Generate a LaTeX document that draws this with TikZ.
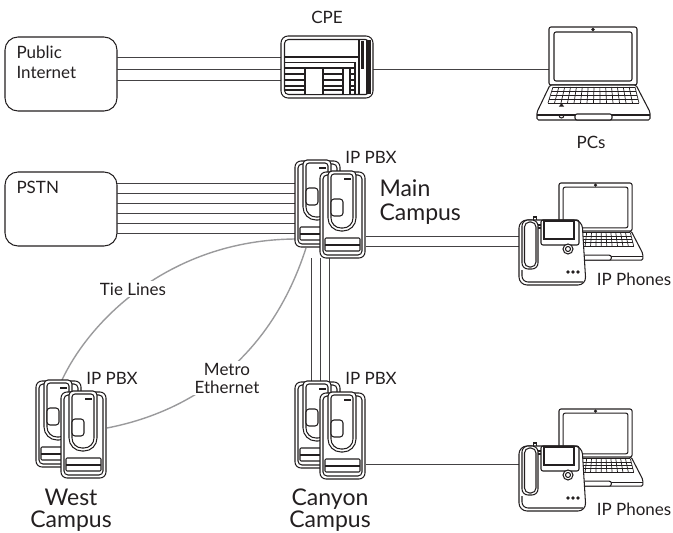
\documentclass[tikz,border=0pt]{standalone}
\usepackage{fontspec}
\setmainfont{Lato}
\usetikzlibrary{positioning}
\definecolor{ink}{HTML}{231F20}
\definecolor{wirecol}{HTML}{444244}
\definecolor{arccol}{HTML}{9A9A9C}

\tikzset{
	pbxunit/.pic={
		\draw[fill=white,rounded corners=6] (0,0) rectangle (45,86);
		\draw[rounded corners=4] (3,3) rectangle (42,83);
		\draw[fill=white,rounded corners=4] (22,-1) -- (36,-1) [rounded corners=13] -- (36,59) -- (8,59) [rounded corners=4] -- (8,-1) -- cycle;
		\draw[rounded corners=3] (22,2) -- (33,2) [rounded corners=10] -- (33,56) -- (11,56) [rounded corners=3] -- (11,2) -- cycle;
		\draw[line width=1.8pt] (24,7) -- (31,7);
		\draw[fill=white,rounded corners=3] (23,27) -- (11,27) -- (11,44) -- (23,44) -- cycle;
		\draw[fill=white,rounded corners=1] (5,66) rectangle (40,79);
		\draw[line width=1.8pt] (5,73) -- (40,73);
	},
	laptop/.pic={
		\draw[fill=white,rounded corners=2] (0,0) rectangle (88,58);
		\draw[rounded corners=2] (5,5) rectangle (83,54);
		\draw[fill=white] (44,2.5) circle[radius=1.2];
		\draw[fill=white,rounded corners=1.5] (1,58) -- (87,58) -- (101,85) -- (101,93) -- (-12,93) -- (-12,85) -- cycle;
		\draw (-12,88) -- (101,88);
		\foreach \r in {0,...,4}
			\draw[line width=.7pt] ({4-\r*1.25},{60+\r*4}) -- ({86+\r},{60+\r*4});
		\foreach \c in {0,...,14}
			\draw[line width=.7pt] ({4+\c*82/14},60) -- ({-1+\c*91/14},76);
		\draw[fill=ink] (11,79) -- (14,79) -- (12.5,77) -- cycle;
		\draw (10,88) .. controls (10,92) and (15,92) .. (15,88);
		\draw[fill=white,rounded corners=2] (26,87) rectangle (63,93);
	},
	deskphone/.pic={
		\draw[fill=white] (14.5,0) -- (14.5,-3) -- (17.5,-3) -- (17.5,0);
		\draw[fill=white,rounded corners=8] (0,0) -- (0,65) -- (67,65) -- (63,0) -- cycle;
		\draw[rounded corners=6] (3,50) -- (3,62) -- (64,62);
		\draw[fill=white,rounded corners=6] (3,0) rectangle (19,49);
		\draw[rounded corners=5] (5.5,2) rectangle (17,47);
		\draw (19,5) -- (22,5) (19,8) -- (22,8);
		\draw[rounded corners=2] (22,0) rectangle (60,25);
		\draw[fill=white] (25,1) rectangle (55,19);
		\draw[fill=white] (49,29) circle[radius=5];
		\draw[fill=white] (49,29) circle[radius=2.5];
		\foreach \d in {49,54,59}
			\draw (\d,52) circle[radius=1.2];
	}
}

\begin{document}
\begin{tikzpicture}[x=1pt,y=-1pt,ink,line width=1.05pt,font=\fontsize{17}{20}\selectfont,
		spot/.style={inner sep=0pt,outer sep=0pt},
		txt/.style={inner sep=0pt,align=left,text=ink}]
		\tikzstyle{cloud box}=[draw=ink,rounded corners=13,minimum width=112,minimum height=74,spot]
		\tikzstyle{wire}=[draw=wirecol,line width=.9pt]
		\tikzstyle{arc}=[draw=arccol,line width=1.4pt]
		\tikzstyle{site}=[txt,font=\fontsize{23}{22}\selectfont,align=center]
		\useasboundingbox (0,0) rectangle (673,533);

		\node[cloud box] (PI)   at (61,74)  {};
		\node[cloud box] (PSTN) at (61,209) {};
		\node[spot,minimum width=92,minimum height=62] (CPE) at (327,67)    {};
		\node[spot,minimum width=88,minimum height=58] (PC)  at (593,56)    {};
		\node[spot,minimum width=71,minimum height=97] (MP)  at (330.5,209.5) {};
		\node[spot,minimum width=71,minimum height=97] (WP)  at (71.5,429.5)  {};
		\node[spot,minimum width=71,minimum height=97] (CP)  at (330.5,430.5) {};
		\node[spot,minimum width=67,minimum height=65] (PH1) at (552.5,252.5) {};
		\node[spot,minimum width=67,minimum height=65] (PH2) at (552.5,478.5) {};
		\coordinate (TW) at (62,380);
		\coordinate (TM) at (295,239);
		\coordinate (EW) at (107,428);
		\coordinate (EM) at (306,248);

		% lines under the devices
		\foreach \ya in {57.5,69,80.5}
			\path[wire] (PI.east |- 0,\ya) edge (CPE.west |- 0,\ya);
		\path[wire] (CPE.east |- 0,69) edge (PC.west |- 0,69);
		\foreach \ya in {183,193,203,213,223,233}
			\path[wire] (PSTN.east |- 0,\ya) edge (MP.west |- 0,\ya);
		\foreach \ya in {236,246}
			\path[wire] (MP.east |- 0,\ya) edge (PH1.west |- 0,\ya);
		\foreach \xa in {311,320,329}
			\path[wire] (\xa,0 |- MP.south) edge (\xa,0 |- CP.north);
		\path[wire] (CP.east |- 0,464) edge (PH2.west |- 0,464);
		\draw[arc] (TW) .. controls (90,320) and (170,240) .. (TM);
		\draw[arc] (EW) .. controls (190,412) and (270,360) .. (EM);

		% the cpe box
		\draw[fill=white,rounded corners=7] (281,36) rectangle (373,98);
		\draw[rounded corners=4] (284.5,39.5) rectangle (369.5,94.5);
		\draw (285,57) -- (359,57);
		\draw (359,40) -- (359,94);
		\draw[fill=ink,draw=none] (361,41) rectangle (364,69);
		\draw[fill=ink,draw=none] (366,40) rectangle (371,94);
		\draw (285,62.5) -- (355,62.5) -- (355,94);
		\foreach \ya in {68,74,80,86,90}
			\draw (285,\ya) -- (355,\ya);
		\draw[fill=white] (305,68) rectangle (323,94.5);
		\draw[fill=white] (343,68) rectangle (350,94.5);

		\pic at (549,27) {laptop};
		\pic at (295,161) {pbxunit};
		\pic at (320,172) {pbxunit};
		\pic at (36,381) {pbxunit};
		\pic at (61,392) {pbxunit};
		\pic at (295,382) {pbxunit};
		\pic at (320,393) {pbxunit};
		\pic[scale=.83] at (559,183) {laptop};
		\pic at (519,220) {deskphone};
		\pic[scale=.83] at (559,409) {laptop};
		\pic at (519,446) {deskphone};

		\node[txt] (lbPI)   [anchor=north west] at (16,45)  {Public\\Internet};
		\node[txt] (lbPSTN) [anchor=north west] at (16,181) {PSTN};
		\node[txt] (lbCPE)  at (327,17)  {CPE};
		\node[txt] (lbPC)   at (591,142) {PCs};
		\node[txt] (lbPB1)  at (371,157) {IP PBX};
		\node[txt] (lbPB2)  at (112,378) {IP PBX};
		\node[txt] (lbPB3)  at (371,378) {IP PBX};
		\node[site,align=left,anchor=west,font=\fontsize{23}{23.5}\selectfont] (lbMain) at (379,202) {Main\\Campus};
		\node[site] (lbWest)   at (71,510)  {West\\Campus};
		\node[site] (lbCanyon) at (330,510) {Canyon\\Campus};
		\node[txt] (lbPH1)  at (634,279) {IP Phones};
		\node[txt] (lbPH2)  at (634,509) {IP Phones};
		\node[txt,fill=white,inner sep=2pt] (lbTie) at (133,289) {Tie Lines};
		\node[txt,fill=white,inner sep=2pt,align=center,font=\fontsize{17}{18}\selectfont] (lbMetro) at (227,378) {Metro\\Ethernet};
	\end{tikzpicture}
\end{document}
